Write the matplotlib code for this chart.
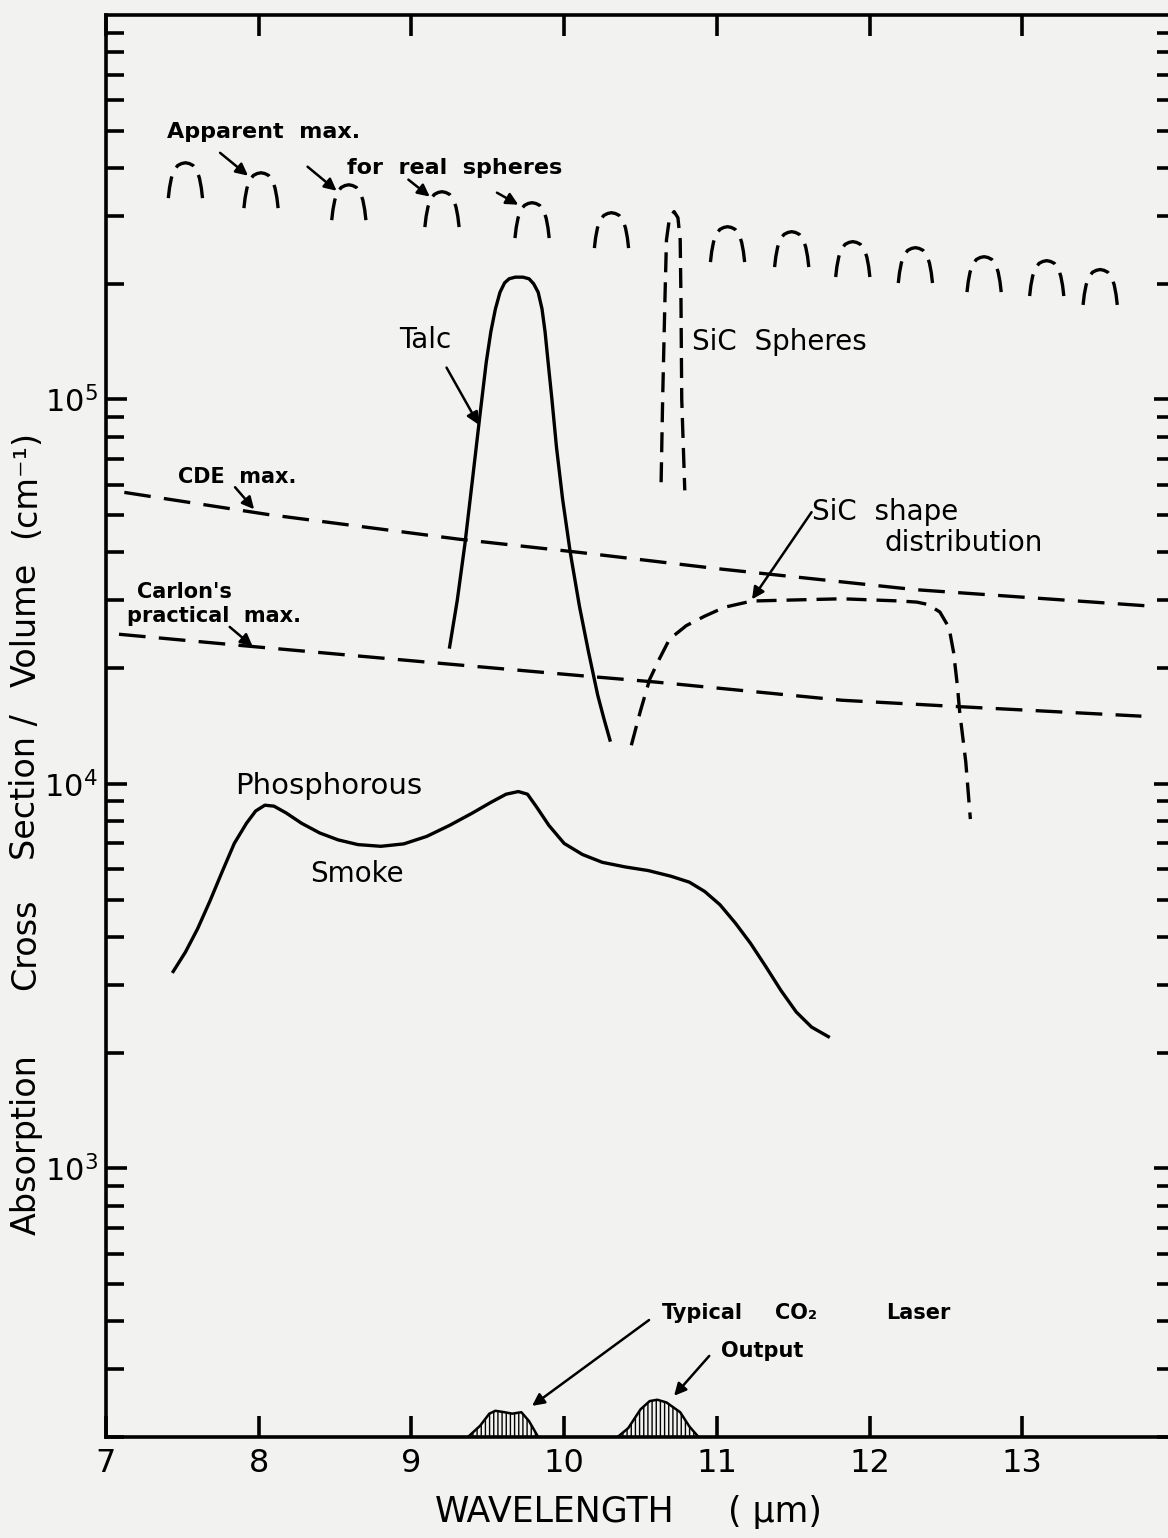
import numpy as np
import matplotlib
matplotlib.use('Agg')
import matplotlib.pyplot as plt
from matplotlib.ticker import FixedLocator, NullFormatter

plt.rcParams['font.family'] = ['DejaVu Sans']

# ---- data: wavelength (um) vs absorption / volume (cm^-1) ----
talc_x = [9.25, 9.30, 9.35, 9.40, 9.45, 9.49, 9.52, 9.55, 9.58, 9.61, 9.64, 9.68, 9.73,
          9.77, 9.80, 9.83, 9.855, 9.875, 9.895, 9.92, 9.95, 9.99, 10.04, 10.10, 10.16,
          10.22, 10.26, 10.30]
talc_y = [22700, 30000, 42000, 62000, 92000, 125000, 150000, 172000, 190000, 201000,
          206000, 208000, 208000, 206000, 200000, 190000, 172000, 150000, 125000, 100000,
          75000, 55000, 40000, 29000, 22000, 17000, 14800, 13000]

smoke_x = [7.44, 7.52, 7.60, 7.68, 7.76, 7.84, 7.92, 7.98, 8.04, 8.10, 8.18, 8.28, 8.40,
           8.52, 8.65, 8.80, 8.95, 9.10, 9.25, 9.40, 9.52, 9.62, 9.70, 9.76, 9.82, 9.90,
           10.00, 10.12, 10.25, 10.40, 10.55, 10.70, 10.82, 10.92, 11.02, 11.12, 11.22,
           11.32, 11.42, 11.52, 11.62, 11.73]
smoke_y = [3250, 3650, 4200, 4950, 5900, 7000, 7900, 8500, 8800, 8750, 8400, 7900, 7450,
           7150, 6950, 6880, 6980, 7300, 7800, 8400, 8950, 9400, 9550, 9400, 8700, 7800,
           7000, 6550, 6250, 6080, 5950, 5750, 5550, 5250, 4850, 4350, 3850,
           3350, 2900, 2550, 2330, 2200]

sic_sph_x = [10.635, 10.645, 10.66, 10.67, 10.69, 10.72, 10.745, 10.76, 10.765, 10.77, 10.79]
sic_sph_y = [60900, 100000, 182000, 260000, 297000, 308000, 297000, 260000, 182000, 100000, 58000]

sic_shape_x = [10.44, 10.50, 10.56, 10.62, 10.69, 10.80, 10.92, 11.05, 11.23, 11.82, 12.20,
               12.31, 12.38, 12.46, 12.52, 12.55, 12.575, 12.59, 12.63, 12.66]
sic_shape_y = [12600, 15500, 18700, 21000, 23800, 25800, 27300, 28800, 29900, 30300, 29900,
               29700, 29300, 28000, 25500, 22000, 18000, 15400, 11400, 8100]

cde_x = [7.12, 8.06, 9.31, 10.10, 11.00, 12.30, 13.84]
cde_y = [57300, 50200, 43300, 40000, 36300, 32000, 29000]

carlon_x = [7.085, 7.94, 9.24, 10.12, 10.60, 11.82, 12.56, 13.78]
carlon_y = [24500, 22800, 20500, 19100, 18400, 16500, 15900, 15000]

# apparent maxima for real spheres (arch centre, arch top)
arch_x = [7.52, 8.015, 8.59, 9.20, 9.79, 10.31, 11.07, 11.49, 11.89, 12.30, 12.75, 13.16, 13.51]
arch_y = [412700, 388700, 361700, 347000, 324900, 306000, 281400, 273100, 257300,
          248200, 235100, 229600, 217700]

# CO2 laser output bumps on the baseline
laser1_x = [9.37, 9.45, 9.51, 9.55, 9.61, 9.66, 9.72, 9.77, 9.83]
laser1_y = [200, 214, 230, 234, 232, 230, 232, 220, 200]
laser2_x = [10.35, 10.42, 10.50, 10.56, 10.61, 10.67, 10.76, 10.82, 10.88]
laser2_y = [200, 211, 236, 248, 250, 246, 232, 213, 200]

x_ticks = [7, 8, 9, 10, 11, 12, 13]
y_ticks = [1e3, 1e4, 1e5]
y_tick_labels = [r'$10^3$', r'$10^4$', r'$10^5$']

# arch outline (um offset, decades below top)
arch_dx = np.array([-0.112, -0.104, -0.092, -0.075, -0.05, -0.025, 0.0,
                    0.025, 0.05, 0.075, 0.092, 0.104, 0.112])
arch_drop = np.array([0.092, 0.065, 0.04, 0.02, 0.007, 0.002, 0.0,
                      0.002, 0.007, 0.02, 0.04, 0.065, 0.092])

fig = plt.figure(figsize=(11.68, 15.38), dpi=100)
fig.patch.set_facecolor('#f2f2f0')
ax = fig.add_axes([106 / 1168, 1 - 1437 / 1538, (1175 - 106) / 1168, (1437 - 15) / 1538])
ax.set_facecolor('#f2f2f0')
ax.set_yscale('log')
ax.set_xlim(7, 14)
ax.set_ylim(200, 1e6)

lw = 2.4
ax.plot(talc_x, talc_y, color='black', lw=lw)
ax.plot(smoke_x, smoke_y, color='black', lw=lw)
ax.plot(sic_sph_x, sic_sph_y, color='black', lw=lw, linestyle=(0, (6, 3)))
ax.plot(sic_shape_x, sic_shape_y, color='black', lw=lw, linestyle=(0, (6, 3)))
ax.plot(cde_x, cde_y, color='black', lw=lw, linestyle=(0, (8, 4)))
ax.plot(carlon_x, carlon_y, color='black', lw=lw, linestyle=(0, (8, 4)))

for cx, cy in zip(arch_x, arch_y):
    ax.plot(cx + arch_dx, cy * 10 ** (-arch_drop), color='black', lw=lw,
            linestyle=(0, (6.6, 3.0, 6.0, 3.0, 8.0, 20)))

for lx, ly in [(laser1_x, laser1_y), (laser2_x, laser2_y)]:
    ax.plot(lx, ly, color='black', lw=1.8)
    ax.fill_between(lx, 200, ly, facecolor='none', edgecolor='black', hatch='||||', lw=0)

# ---- axes styling ----
for s in ax.spines.values():
    s.set_linewidth(2.6)
ax.set_xticks(x_ticks)
ax.set_xticklabels([str(t) for t in x_ticks])
ax.yaxis.set_major_locator(FixedLocator(y_ticks))
ax.set_yticklabels(y_tick_labels)
ax.yaxis.set_minor_locator(FixedLocator([m * 10 ** d for d in range(2, 6) for m in range(2, 10)]))
ax.yaxis.set_minor_formatter(NullFormatter())
ax.tick_params(axis='both', which='both', direction='in', top=True, right=True,
               width=2.6, labelsize=23)
ax.tick_params(axis='x', which='major', length=15, pad=8)
ax.tick_params(axis='y', which='major', length=15, pad=6, labelsize=22)
ax.tick_params(axis='y', which='minor', length=13)

# y label, word by word as lettered on the original
for word, yc in [('Absorption', 1145), ('Cross', 944), ('Section /', 787),
                 ('Volume', 625), ('(cm\u207b\u00b9)', 484)]:
    fig.text(26 / 1168, 1 - yc / 1538, word, rotation=90, ha='center', va='center',
             fontsize=24)
fig.text(555 / 1168, 1 - 1512 / 1538, 'WAVELENGTH', ha='center', va='center', fontsize=25)
fig.text(775 / 1168, 1 - 1512 / 1538, '( \u00b5m)', ha='center', va='center', fontsize=25)

# ---- annotations ----
arrow = dict(arrowstyle='-|>', color='black', lw=1.8, mutation_scale=18, shrinkA=0, shrinkB=0)

ax.text(7.40, 497000, 'Apparent  max.', fontsize=16, fontweight='bold', va='center')
ax.text(8.58, 401000, 'for  real  spheres', fontsize=16, fontweight='bold', va='center')
for tail, head in [((7.747, 438000), (7.93, 382000)), ((8.32, 403000), (8.51, 349000)),
                   ((8.98, 373000), (9.12, 337000)), ((9.56, 345000), (9.70, 321000))]:
    ax.annotate('', xy=head, xytext=tail, arrowprops=arrow)

ax.text(9.09, 143000, 'Talc', fontsize=20, ha='center', va='center')
ax.annotate('', xy=(9.44, 86000), xytext=(9.23, 121000), arrowprops=arrow)

ax.text(10.84, 141000, 'SiC  Spheres', fontsize=20, va='center')

ax.text(7.47, 62700, 'CDE  max.', fontsize=15, fontweight='bold', va='center')
ax.annotate('', xy=(7.97, 51800), xytext=(7.845, 59100), arrowprops=arrow)

ax.text(7.20, 31500, "Carlon's", fontsize=15, fontweight='bold', va='center')
ax.text(7.14, 27300, 'practical  max.', fontsize=15, fontweight='bold', va='center')
ax.annotate('', xy=(7.96, 22800), xytext=(7.81, 25600), arrowprops=arrow)

ax.text(11.62, 50900, 'SiC  shape', fontsize=20, va='center')
ax.text(12.10, 42200, 'distribution', fontsize=20, va='center')
ax.annotate('', xy=(11.23, 30200), xytext=(11.62, 50900), arrowprops=arrow)

ax.text(8.46, 9890, 'Phosphorous', fontsize=21, ha='center', va='center')
ax.text(8.64, 5840, 'Smoke', fontsize=20, ha='center', va='center')

ax.text(10.64, 420, 'Typical', fontsize=15, fontweight='bold', va='center')
ax.text(11.38, 420, 'CO\u2082', fontsize=15, fontweight='bold', va='center')
ax.text(12.11, 420, 'Laser', fontsize=15, fontweight='bold', va='center')
ax.text(11.03, 335, 'Output', fontsize=15, fontweight='bold', va='center')
ax.annotate('', xy=(9.79, 241), xytext=(10.556, 403), arrowprops=arrow)
ax.annotate('', xy=(10.72, 256), xytext=(10.95, 325), arrowprops=arrow)

fig.savefig('out.png', dpi=100, facecolor=fig.get_facecolor())
